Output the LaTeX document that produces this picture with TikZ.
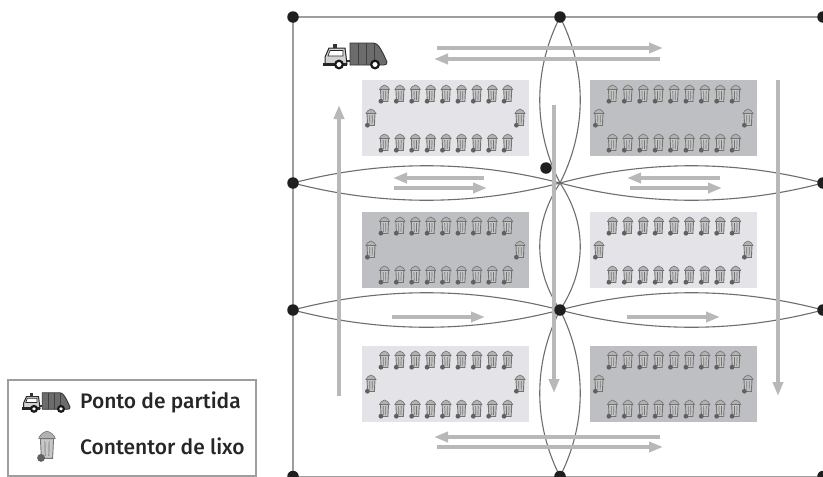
\documentclass[tikz,border=0pt]{standalone}
\usepackage{fontspec}
\setmainfont{Fira Sans}
\newfontfamily\legendfont{Fira Sans Medium}
\usetikzlibrary{arrows.meta,calc}
\definecolor{blocklight}{HTML}{E4E4E8}
\definecolor{blockdark}{HTML}{BDBFC2}
\definecolor{framecol}{gray}{0.62}
\definecolor{lenscol}{gray}{0.43}
\definecolor{flowcol}{gray}{0.72}
\definecolor{iconcol}{gray}{0.45}
\tikzset{
  dotnode/.style={circle,fill=black!88,draw=none,minimum size=11.5pt,inner sep=0pt},
  framepath/.style={draw=framecol,line width=1.3pt},
  lens/.style={draw=lenscol,line width=1.1pt},
  flow/.style={draw=flowcol,line width=3.6pt,-{Triangle[length=14pt,width=10pt]}},
  blocklt/.style={fill=blocklight,draw=none},
  blockdk/.style={fill=blockdark,draw=none},
  legendtext/.style={font=\legendfont\fontsize{21}{24}\selectfont,text=black!85,anchor=west,inner sep=0pt},
  bin/.pic={
    \filldraw[draw=iconcol,fill=white!45!iconcol,line width=.6pt] (-5,-4.5) .. controls (-4.5,-6.5) and (-2.5,-8.3) .. (0,-9) .. controls (2.5,-8.3) and (4.5,-6.5) .. (5,-4.5) -- cycle;
    \filldraw[draw=iconcol,fill=white!60!iconcol,line width=.9pt] (-4,-4.5) -- (-3.4,7.5) -- (3.4,7.5) -- (4,-4.5) -- cycle;
    \draw[iconcol,line width=.7pt] (-1.3,-3) -- (-1.1,6) (1.3,-3) -- (1.1,6);
    \fill[iconcol!85!black] (-3.6,7.2) circle (2.4);
  },
  truck/.pic={
    \filldraw[draw=black!80,fill=gray!85!black,line width=.9pt] (27,1) -- (50,1) .. controls (54,1) and (57,4) .. (64,20) .. controls (64,22) and (63,23) .. (61,23) -- (27,23) -- cycle;
    \foreach \sx in {35,43,51} \draw[black!75,line width=.9pt] (\sx,1) -- (\sx,22.5);
    \filldraw[draw=black!85,fill=gray!35,line width=1pt] (2,22) -- (2,15) -- (6,6) -- (22,6) -- (24,22) -- cycle;
    \filldraw[draw=black!85,fill=white,line width=.7pt] (7,8.5) -- (20,8.5) -- (20,14) -- (5,14) -- cycle;
    \fill[black!80] (10,1.5) rectangle (14,6);
    \fill[black!85] (0,20.5) rectangle (24,23.5);
    \fill[black!80] (24,17.5) rectangle (27,19.5);
    \filldraw[draw=black!90,fill=white,line width=2.2pt] (16,22.5) circle (3.8);
    \filldraw[draw=black!90,fill=white,line width=2.2pt] (52,22.5) circle (3.8);
  }
}
\begin{document}
\begin{tikzpicture}[x=1pt,y=-1pt]
\useasboundingbox[fill=white] (0,0) rectangle (823,477);

% city blocks
\path[blocklt] (362,80) rectangle (529,156);
\path[blockdk] (590,80) rectangle (757,156);
\path[blockdk] (362,212) rectangle (529,288);
\path[blocklt] (590,212) rectangle (757,288);
\path[blocklt] (362,346) rectangle (529,422);
\path[blockdk] (590,346) rectangle (757,422);

% bins around every block
\foreach \bx/\by in {362/80,590/80,362/212,590/212,362/346,590/346}{
  \foreach \k in {0,...,8}{
    \pic at ({\bx+22.5+15.4*\k},{\by+14}) {bin};
    \pic at ({\bx+22.5+15.4*\k},{\by+63}) {bin};
  }
  \pic at ({\bx+9},{\by+38}) {bin};
  \pic at ({\bx+158},{\by+38}) {bin};
}

% street junctions (positions first, dots drawn last)
\coordinate (tl) at (293,17);
\coordinate (tm) at (560,17);
\coordinate (tr) at (823,17);
\coordinate (ml) at (293,183);
\coordinate (mm) at (560,183);
\coordinate (mr) at (823,183);
\coordinate (cl) at (293,310);
\coordinate (cm) at (560,310);
\coordinate (cr) at (823,310);
\coordinate (bl) at (293,476.5);
\coordinate (bm) at (560,476.5);
\coordinate (br) at (823,476.5);

% street frame
\path[framepath] (tl) -- (tm) -- (tr);
\path[framepath] (tl) -- (ml) -- (cl) -- (bl);
\path[framepath] (bl) -- (bm) -- (br);

% lenses
\foreach \a/\b in {tm/mm,mm/cm,cm/bm}{
  \path[lens] (\a) .. controls ($(\a)!.32!(\b)+(-27,0)$) and ($(\a)!.68!(\b)+(-27,0)$) .. (\b);
  \path[lens] (\a) .. controls ($(\a)!.32!(\b)+(27,0)$) and ($(\a)!.68!(\b)+(27,0)$) .. (\b);
}
\foreach \a/\b in {ml/mm,mm/mr,cl/cm,cm/cr}{
  \path[lens] (\a) .. controls ($(\a)!.33!(\b)+(0,-23)$) and ($(\a)!.67!(\b)+(0,-23)$) .. (\b);
  \path[lens] (\a) .. controls ($(\a)!.33!(\b)+(0,23)$) and ($(\a)!.67!(\b)+(0,23)$) .. (\b);
}

% flow arrow ends
\coordinate (f1a) at (437,48);  \coordinate (f1b) at (663,48);
\coordinate (f2a) at (660,59);  \coordinate (f2b) at (434,59);
\coordinate (f3a) at (339,396); \coordinate (f3b) at (339,105);
\coordinate (f4a) at (778,80);  \coordinate (f4b) at (778,396);
\coordinate (f5a) at (554,105); \coordinate (f5b) at (554,393);
\coordinate (f6a) at (660,437); \coordinate (f6b) at (434,437);
\coordinate (f7a) at (437,447); \coordinate (f7b) at (663,447);
\coordinate (f8a) at (484,178); \coordinate (f8b) at (393,178);
\coordinate (f9a) at (394,188); \coordinate (f9b) at (487,188);
\coordinate (f10a) at (720,178); \coordinate (f10b) at (627,178);
\coordinate (f11a) at (630,188); \coordinate (f11b) at (722,188);
\coordinate (f12a) at (392,317); \coordinate (f12b) at (485,317);
\coordinate (f13a) at (627,317); \coordinate (f13b) at (720,317);
\foreach \i in {1,...,13} \draw[flow] (f\i a) -- (f\i b);

% junction dots on top
\foreach \n in {tl,tm,tr,ml,mr,cl,cm,cr,bl,bm,br}
  \node[dotnode] (dot\n) at (\n) {};
\node[dotnode] (st) at (546,168) {};

% truck at the starting point
\pic at (323,42) {truck};

% legend
\node[draw=framecol,line width=1.3pt,fill=white,minimum width=248pt,minimum height=96pt,inner sep=0pt] (legend) at (132,428) {};
\pic[scale=.75] at (22,392) {truck};
\pic[scale=1.65] at (47,446) {bin};
\node[legendtext] (l1) at (80,402) {Ponto de partida};
\node[legendtext] (l2) at (80,446) {Contentor de lixo};
\end{tikzpicture}
\end{document}
